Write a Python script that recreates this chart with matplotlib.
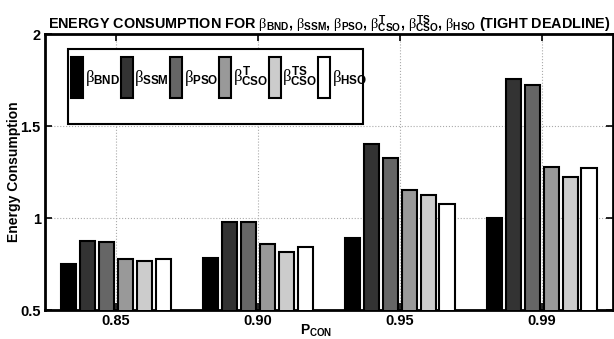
import numpy as np
import matplotlib.pyplot as plt
from matplotlib.patches import Rectangle

# fonts: bold sans text, serif beta in math
plt.rcParams['font.family'] = 'Liberation Sans'
plt.rcParams['font.weight'] = 'bold'
plt.rcParams['mathtext.fontset'] = 'custom'
plt.rcParams['mathtext.rm'] = 'Liberation Serif:regular'
plt.rcParams['mathtext.it'] = 'Liberation Serif:regular'
plt.rcParams['mathtext.bf'] = 'Liberation Sans:bold'

# data
p_con = ['0.85', '0.90', '0.95', '0.99']
bnd = [0.750, 0.785, 0.890, 1.000]
ssm = [0.873, 0.980, 1.404, 1.755]
pso = [0.868, 0.980, 1.326, 1.721]
cso_t = [0.779, 0.859, 1.154, 1.275]
cso_ts = [0.766, 0.817, 1.125, 1.221]
hso = [0.775, 0.842, 1.074, 1.270]

series = [bnd, ssm, pso, cso_t, cso_ts, hso]
labels = [r'$\beta_{\mathbf{BND}}$', r'$\beta_{\mathbf{SSM}}$', r'$\beta_{\mathbf{PSO}}$',
          r'$\beta^{\mathbf{T}}_{\mathbf{CSO}}$', r'$\beta^{\mathbf{TS}}_{\mathbf{CSO}}$',
          r'$\beta_{\mathbf{HSO}}$']
colors = ['#000000', '#333333', '#666666', '#999999', '#cccccc', '#ffffff']

fig = plt.figure(figsize=(6.14, 3.39), dpi=100)
ax = fig.add_axes([0.0733, 0.0855, 0.925, 0.8142])

x = np.arange(1, len(p_con) + 1)
step = 0.8 / len(series)
for i, (vals, lab, col) in enumerate(zip(series, labels, colors)):
    ax.bar(x + (i - 2.5) * step, vals, width=0.11, color=col, edgecolor='black',
           linewidth=1.5, label=lab, zorder=3)

ax.set_xlim(0.5, 4.5)
ax.set_ylim(0.5, 2)
ax.set_xticks(x)
ax.set_xticklabels(p_con, fontsize=10.5, fontweight='bold')
ax.set_yticks([0.5, 1, 1.5, 2])
ax.set_yticklabels(['0.5', '1', '1.5', '2'], fontsize=10.5, fontweight='bold')
ax.tick_params(direction='in', top=True, right=True, length=5, width=1.2, pad=3)
for s in ax.spines.values():
    s.set_linewidth(2)
ax.grid(True, linestyle=':', color='#aaaaaa', linewidth=0.8)
ax.set_axisbelow(True)

ax.set_xlabel(r'$\mathbf{P}_{\mathbf{CON}}$', fontsize=10)
ax.xaxis.set_label_coords(0.478, -0.045)
ax.set_ylabel('Energy Consumption', fontsize=10, fontweight='bold')
ax.yaxis.set_label_coords(-0.042, 0.5)
ax.set_title(r'ENERGY CONSUMPTION FOR $\beta_{\mathbf{BND}}$, $\beta_{\mathbf{SSM}}$, '
             r'$\beta_{\mathbf{PSO}}$, $\beta^{\mathbf{T}}_{\mathbf{CSO}}$, '
             r'$\beta^{\mathbf{TS}}_{\mathbf{CSO}}$, $\beta_{\mathbf{HSO}}$ (TIGHT DEADLINE)',
             fontsize=10.4, fontweight='bold', pad=4)

# legend box (MATLAB style, taller than its entries)
ax.add_patch(Rectangle((0.0405, 0.674), 0.5195, 0.272, transform=ax.transAxes,
                       facecolor='white', edgecolor='black', linewidth=1.5, zorder=4))
leg = ax.legend(loc='upper left', bbox_to_anchor=(0.0458, 0.9167), ncol=6,
                frameon=False, fontsize=12, handlelength=0.72, handleheight=3.4,
                handletextpad=0.1, columnspacing=0.05, borderpad=0, borderaxespad=0)
leg.set_zorder(5)

fig.savefig('out.png', dpi=100)
